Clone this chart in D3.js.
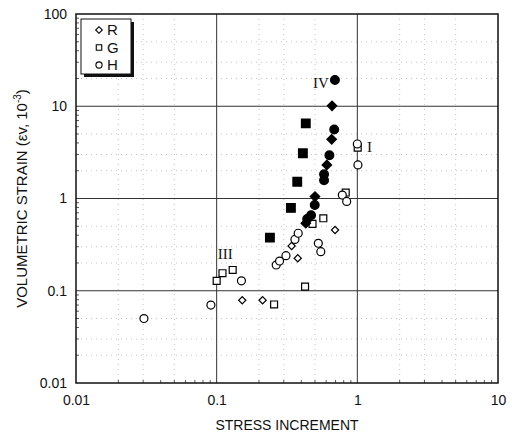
<!DOCTYPE html>
<html>
<head>
<meta charset="utf-8">
<script src="https://cdnjs.cloudflare.com/ajax/libs/d3/7.8.5/d3.min.js"></script>
<style>
  body { margin: 0; background: #fff; }
  text { font-family: "Liberation Sans", Arial, sans-serif; fill: #111; }
</style>
</head>
<body>
<div id="chart"></div>
<script>
const width = 512;
const height = 438;
const margin = { top: 14, right: 14, bottom: 55, left: 76 };

// data: [stress increment, volumetric strain]
const rOpen = [[0.152, 0.079], [0.212, 0.079], [0.341, 0.306], [0.377, 0.225], [0.694, 0.456]];
const rFilled = [[0.661, 10.1], [0.657, 4.38], [0.607, 2.31], [0.50, 1.05], [0.43, 0.54]];
const gOpen = [[0.100, 0.128], [0.110, 0.155], [0.130, 0.168], [0.256, 0.071], [0.425, 0.111],
               [0.48, 0.53], [0.573, 0.61], [0.827, 1.16], [1.006, 3.55]];
const gFilled = [[0.43, 6.53], [0.41, 3.09], [0.374, 1.52], [0.337, 0.79], [0.239, 0.376]];
const hOpen = [[0.0304, 0.050], [0.091, 0.070], [0.150, 0.128], [0.265, 0.19], [0.28, 0.21],
               [0.311, 0.24], [0.36, 0.36], [0.38, 0.42], [0.528, 0.327], [0.55, 0.265],
               [0.782, 1.09], [0.84, 0.93], [1.01, 2.31], [1.0, 3.9]];
const hFilled = [[0.693, 19.3], [0.685, 5.6], [0.633, 2.94], [0.58, 1.83], [0.58, 1.58],
                 [0.498, 0.85], [0.469, 0.66], [0.44, 0.60]];
const xTicks = [0.01, 0.1, 1, 10];
const yTicks = [0.01, 0.1, 1, 10, 100];
const legendItems = ["R", "G", "H"];
const zoneLabels = [["IV", 0.55, 18], ["I", 1.22, 3.6], ["III", 0.115, 0.25]];

const svg = d3.select("#chart").append("svg")
  .attr("width", width)
  .attr("height", height);

const x = d3.scaleLog().domain([0.01, 10]).range([margin.left, width - margin.right]);
const y = d3.scaleLog().domain([0.01, 100]).range([height - margin.bottom, margin.top]);

// minor dotted grid
const minor = [];
[0.01, 0.1, 1].forEach(d => [2, 3, 5].forEach(m => minor.push(d * m)));
const minorY = [];
[0.01, 0.1, 1, 10].forEach(d => [2, 3, 5].forEach(m => minorY.push(d * m)));

svg.append("g").selectAll("line").data(minor).join("line")
  .attr("x1", d => x(d)).attr("x2", d => x(d))
  .attr("y1", y(100)).attr("y2", y(0.01))
  .attr("stroke", "#aaa").attr("stroke-width", 0.7).attr("stroke-dasharray", "1,4");
svg.append("g").selectAll("line").data(minorY).join("line")
  .attr("x1", x(0.01)).attr("x2", x(10))
  .attr("y1", d => y(d)).attr("y2", d => y(d))
  .attr("stroke", "#aaa").attr("stroke-width", 0.7).attr("stroke-dasharray", "1,4");

// major grid
svg.append("g").selectAll("line").data([0.1, 1]).join("line")
  .attr("x1", d => x(d)).attr("x2", d => x(d))
  .attr("y1", y(100)).attr("y2", y(0.01))
  .attr("stroke", "#333").attr("stroke-width", 1);
svg.append("g").selectAll("line").data([0.1, 1, 10]).join("line")
  .attr("x1", x(0.01)).attr("x2", x(10))
  .attr("y1", d => y(d)).attr("y2", d => y(d))
  .attr("stroke", "#333").attr("stroke-width", 1);

// axes
svg.append("g")
  .attr("transform", `translate(0, ${y(0.01)})`)
  .call(d3.axisBottom(x).tickValues(xTicks).tickSize(0).tickPadding(12).tickFormat(d => d))
  .call(g => g.select(".domain").remove())
  .selectAll("text").style("font-size", "14px");

svg.append("g")
  .attr("transform", `translate(${x(0.01)}, 0)`)
  .call(d3.axisLeft(y).tickValues(yTicks).tickSize(0).tickPadding(9).tickFormat(d => d))
  .call(g => g.select(".domain").remove())
  .selectAll("text").style("font-size", "14px");

// inner minor ticks
const minorAll = [];
[0.01, 0.1, 1, 10].forEach(d => d3.range(2, 10).forEach(m => minorAll.push(d * m)));
svg.append("g").selectAll("line").data(minorAll.filter(d => d < 100)).join("line")
  .attr("x1", x(0.01)).attr("x2", x(0.01) + 3)
  .attr("y1", d => y(d)).attr("y2", d => y(d))
  .attr("stroke", "#333").attr("stroke-width", 0.8);
svg.append("g").selectAll("line").data(minorAll.filter(d => d < 10)).join("line")
  .attr("x1", d => x(d)).attr("x2", d => x(d))
  .attr("y1", y(0.01)).attr("y2", y(0.01) - 3)
  .attr("stroke", "#333").attr("stroke-width", 0.8);

// frame
svg.append("rect")
  .attr("x", x(0.01)).attr("y", y(100))
  .attr("width", x(10) - x(0.01)).attr("height", y(0.01) - y(100))
  .attr("fill", "none").attr("stroke", "#111").attr("stroke-width", 1.5);

// axis titles
svg.append("text")
  .attr("x", (x(0.01) + x(10)) / 2).attr("y", 430)
  .attr("text-anchor", "middle")
  .style("font-size", "14px")
  .text("STRESS INCREMENT");

const yTitle = svg.append("text")
  .attr("transform", `translate(27, ${(y(0.01) + y(100)) / 2}) rotate(-90)`)
  .attr("text-anchor", "middle")
  .style("font-size", "15px");
yTitle.append("tspan").text("VOLUMETRIC  STRAIN (εv, 10");
yTitle.append("tspan").attr("dy", -6).style("font-size", "10px").text("-3");
yTitle.append("tspan").attr("dy", 6).text(")");

// markers (diamond = square turned 45 degrees)
const series = [
  { data: rOpen, type: d3.symbolSquare, size: 26, rot: 45, fill: "#fff" },
  { data: gOpen, type: d3.symbolSquare, size: 48, rot: 0, fill: "#fff" },
  { data: hOpen, type: d3.symbolCircle, size: 50, rot: 0, fill: "#fff" },
  { data: gFilled, type: d3.symbolSquare, size: 75, rot: 0, fill: "#000" },
  { data: rFilled, type: d3.symbolSquare, size: 45, rot: 45, fill: "#000" },
  { data: hFilled, type: d3.symbolCircle, size: 60, rot: 0, fill: "#000" }
];

series.forEach(s => {
  svg.append("g").selectAll("path").data(s.data).join("path")
    .attr("transform", d => `translate(${x(d[0])}, ${y(d[1])}) rotate(${s.rot})`)
    .attr("d", d3.symbol().type(s.type).size(s.size))
    .attr("fill", s.fill)
    .attr("stroke", "#000")
    .attr("stroke-width", 1.2);
});

// zone labels
svg.append("g").selectAll("text").data(zoneLabels).join("text")
  .attr("x", d => x(d[1])).attr("y", d => y(d[2]))
  .attr("dy", "0.35em")
  .attr("text-anchor", "middle")
  .style("font-family", "'Liberation Serif', 'Times New Roman', serif")
  .style("font-size", "15px")
  .text(d => d[0]);

// legend
const legend = svg.append("g").attr("transform", "translate(81, 19)");
legend.append("rect").attr("x", 3).attr("y", 3).attr("width", 50).attr("height", 55).attr("fill", "#111");
legend.append("rect").attr("x", 0).attr("y", 0).attr("width", 50).attr("height", 55)
  .attr("fill", "#fff").attr("stroke", "#111").attr("stroke-width", 1);
const legendShapes = [[d3.symbolSquare, 45, 22], [d3.symbolSquare, 0, 30], [d3.symbolCircle, 0, 30]];
legendItems.forEach((name, i) => {
  legend.append("path")
    .attr("transform", `translate(18, ${11 + i * 17.5}) rotate(${legendShapes[i][1]})`)
    .attr("d", d3.symbol().type(legendShapes[i][0]).size(legendShapes[i][2]))
    .attr("fill", "#fff").attr("stroke", "#000").attr("stroke-width", 1.1);
  legend.append("text")
    .attr("x", 26).attr("y", 11 + i * 17.5).attr("dy", "0.36em")
    .style("font-size", "15px")
    .text(name);
});
</script>
</body>
</html>
